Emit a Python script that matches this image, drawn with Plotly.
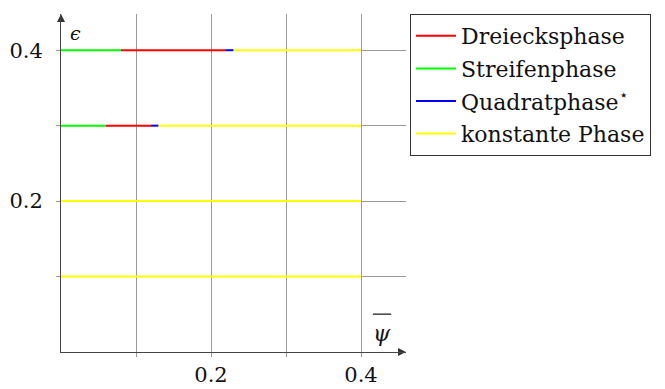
import plotly.graph_objects as go

# data
eps_levels = [0.1, 0.2, 0.3, 0.4]
stripe_end = [0.0, 0.0, 0.06, 0.08]     # Streifenphase from 0
triangle_end = [0.0, 0.0, 0.12, 0.22]   # Dreiecksphase
square_end = [0.0, 0.0, 0.13, 0.23]     # Quadratphase
psi_max = 0.4
x_max = 0.46
y_max = 0.448
major_ticks = [0.2, 0.4]
major_text = ["0.2", "0.4"]
minor_ticks = [0.1, 0.3]

names = ["Dreiecksphase", "Streifenphase", "Quadratphase<sup>⋆</sup>", "konstante Phase"]
colors = ["#ff0000", "#00ff00", "#0000ff", "#ffff00"]

FAM = "'DejaVu Serif', serif"
FS = 21


def segs(starts, ends):
    xs, ys = [], []
    for e, a, b in zip(eps_levels, starts, ends):
        if b > a:
            xs += [a, b, None]
            ys += [e, e, None]
    return xs, ys


zeros = [0.0] * len(eps_levels)
series = [
    segs(stripe_end, triangle_end),
    segs(zeros, stripe_end),
    segs(triangle_end, square_end),
    segs(square_end, [psi_max] * len(eps_levels)),
]

fig = go.Figure()
for i, ((xs, ys), n, c) in enumerate(zip(series, names, colors)):
    fig.add_trace(go.Scatter(x=xs, y=ys, mode="lines", name=n, legendgroup=f"g{i}",
                             line=dict(color=c, width=2)))

# arrow heads at axis ends
fig.add_trace(go.Scatter(x=[x_max], y=[0], mode="markers", showlegend=False, hoverinfo="skip",
                         cliponaxis=False,
                         marker=dict(symbol="arrow-right", size=8, color="#333")))
fig.add_trace(go.Scatter(x=[0], y=[y_max], mode="markers", showlegend=False, hoverinfo="skip",
                         cliponaxis=False,
                         marker=dict(symbol="arrow-up", size=8, color="#333")))

axis_common = dict(tickvals=major_ticks, ticktext=major_text, showgrid=True,
                   gridcolor="#9a9a9a", gridwidth=1, zeroline=False,
                   showline=True, linecolor="#444", linewidth=1,
                   ticks="outside", ticklen=4, tickcolor="#9a9a9a", automargin=False,
                   minor=dict(tickvals=minor_ticks, showgrid=True, gridcolor="#9a9a9a",
                              gridwidth=1, ticks="outside", ticklen=4, tickcolor="#9a9a9a"),
                   tickfont=dict(family=FAM, size=FS, color="#111"))
fig.update_xaxes(range=[0, x_max], ticklabelstandoff=0, **axis_common)
fig.update_yaxes(range=[0, y_max], ticklabelstandoff=9, **axis_common)

fig.add_annotation(x=0.0406, y=0.945, xref="paper", yref="paper", text="<i>ϵ</i>",
                   xanchor="center", yanchor="middle",
                   showarrow=False, font=dict(family=FAM, size=19, color="#111"))
fig.add_annotation(x=0.93, y=0.056, xref="paper", yref="paper", text="<i>ψ</i>",
                   xanchor="center", yanchor="middle",
                   showarrow=False, font=dict(family=FAM, size=22, color="#111"))
fig.add_shape(type="line", xref="paper", yref="paper", x0=0.904, x1=0.957, y0=0.112, y1=0.112,
              line=dict(color="#111", width=1.2))

fig.update_layout(
    width=665, height=389,
    margin=dict(l=61, r=259, t=14, b=37),
    plot_bgcolor="white", paper_bgcolor="white",
    font=dict(family=FAM, size=FS, color="#111"),
    showlegend=True,
    legend=dict(x=1.0116, y=1.0, xanchor="left", yanchor="top",
                bgcolor="white", bordercolor="#333", borderwidth=1, itemwidth=40,
                font=dict(family=FAM, size=22, color="#111"), tracegroupgap=1),
)

fig.write_html("out.html")
